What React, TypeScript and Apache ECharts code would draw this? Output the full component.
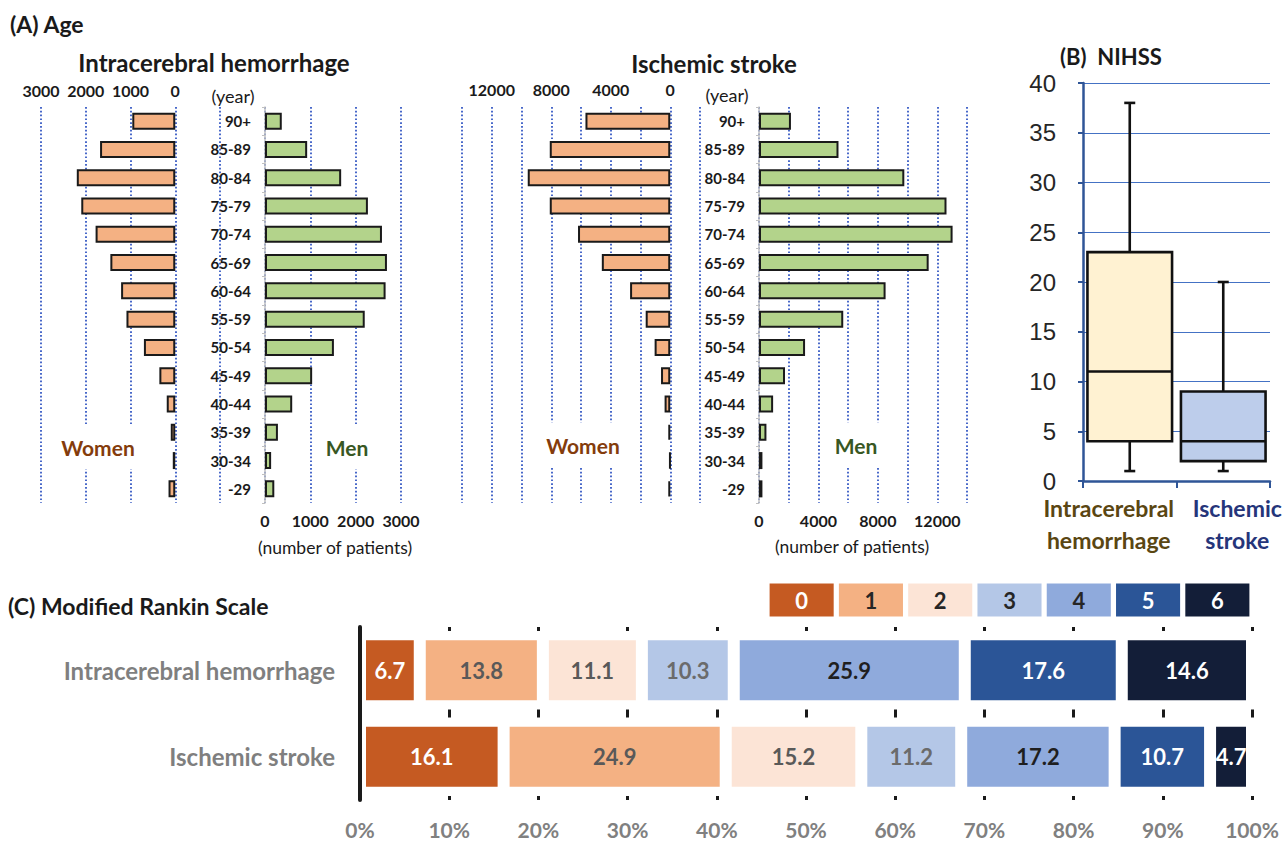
import React, { useEffect, useRef } from "react";
import * as echarts from "echarts";

// ---------- DATA ----------
const ageGroups = ["90+", "85-89", "80-84", "75-79", "70-74", "65-69", "60-64", "55-59", "50-54", "45-49", "40-44", "35-39", "30-34", "-29"];
const ichWomen = [960, 1680, 2200, 2100, 1780, 1450, 1210, 1090, 700, 355, 190, 100, 55, 150];
const ichMen = [370, 930, 1680, 2270, 2580, 2690, 2660, 2200, 1520, 1040, 600, 285, 135, 205];
const isWomen = [5700, 8100, 9580, 8100, 6200, 4600, 2700, 1650, 1050, 620, 380, 130, 40, 130];
const isMen = [2150, 5350, 9780, 12620, 13030, 11420, 8520, 5670, 3100, 1750, 950, 500, 230, 230];

const nihssCategories = ["Intracerebral\nhemorrhage", "Ischemic\nstroke"];
// [min, Q1, median, Q3, max]
const nihssIch = [1, 4, 11, 23, 38];
const nihssIs = [1, 2, 4, 9, 20];

const mrsCategories = ["Intracerebral hemorrhage", "Ischemic stroke"];
const mrsScores = ["0", "1", "2", "3", "4", "5", "6"];
const mrsIch = [6.7, 13.8, 11.1, 10.3, 25.9, 17.6, 14.6];
const mrsIs = [16.1, 24.9, 15.2, 11.2, 17.2, 10.7, 4.7];

// ---------- STYLE ----------
const CAL = "Lato";
const womenColor = "#F4B183";
const menColor = "#B3D38B";
const mrsColors = ["#C55A22", "#F4B183", "#FCE4D6", "#B4C7E7", "#8FAADC", "#2B5597", "#131E38"];
const mrsLabelColors = ["#ffffff", "#595959", "#595959", "#6b6b6b", "#1f1f1f", "#ffffff", "#ffffff"];
const legendLabelColors = ["#ffffff", "#262626", "#262626", "#262626", "#262626", "#ffffff", "#ffffff"];
const boxFills = ["#FFF2D2", "#BDCDEB"];

const dotted = { show: true, lineStyle: { color: "#2a4fc0", type: [1.7, 2.1], width: 1.7 } };

function App() {
  const ref = useRef<HTMLDivElement>(null);
  useEffect(() => {
    if (!ref.current) return;
    const chart = echarts.init(ref.current, null, { renderer: "svg" });

    const pyrTop = 107;
    const pyrH = 396;
    const axisLabelTop = { fontFamily: CAL, fontWeight: "bold", fontSize: 16, color: "#1a1a1a" };
    const ichFmt = (v: number) => (v < 0 ? "" : String(v));
    const isFmt = (v: number) => (v >= 0 && v <= 12000 && v % 4000 === 0 ? String(v) : "");

    const catAxisBase = (gridIndex: number, showLabels: boolean) => ({
      type: "category",
      gridIndex,
      data: ageGroups,
      inverse: true,
      show: true,
      axisLine: { show: showLabels, lineStyle: { color: "#c0c0c0", width: 1.5 } },
      axisTick: { show: showLabels, length: 3, lineStyle: { color: "#c0c0c0" } },
      axisLabel: {
        show: showLabels,
        margin: 14,
        fontFamily: CAL,
        fontWeight: "bold",
        fontSize: 15,
        color: "#1a1a1a",
      },
      splitLine: { show: false },
    });

    const barStyle = (color: string) => ({ color, borderColor: "#1a1a1a", borderWidth: 2 });

    const text = (t: string, x: number, y: number, font: string, fill: string, align = "center", extra: any = {}) => ({
      type: "text",
      x,
      y,
      z: 100,
      style: {
        text: t,
        font,
        fill,
        align,
        verticalAlign: "middle",
        textAlign: align,
        textVerticalAlign: "middle",
        ...extra,
      },
    });

    const option: any = {
      animation: false,
      backgroundColor: "#ffffff",
      grid: [
        { left: 41, top: pyrTop, width: 179, height: pyrH },
        { left: 265, top: pyrTop, width: 136, height: pyrH },
        { left: 462, top: pyrTop, width: 238, height: pyrH },
        { left: 759, top: pyrTop, width: 208, height: pyrH },
        { left: 1083, top: 83, width: 187, height: 398 },
        { left: 360, top: 627, width: 892, height: 173 },
        { left: 767, top: 582, width: 485, height: 36 },
      ],
      xAxis: [
        {
          type: "value", gridIndex: 0, min: -1000, max: 3000, interval: 1000, inverse: true, position: "top",
          axisLine: { show: false }, axisTick: { show: false },
          axisLabel: { ...axisLabelTop, margin: 9, formatter: ichFmt }, splitLine: dotted,
        },
        {
          type: "value", gridIndex: 1, min: 0, max: 3000, interval: 1000, position: "bottom",
          axisLine: { show: false }, axisTick: { show: false },
          axisLabel: { ...axisLabelTop, margin: 9, formatter: ichFmt }, splitLine: dotted,
        },
        {
          type: "value", gridIndex: 2, min: -2000, max: 14000, interval: 2000, inverse: true, position: "top",
          axisLine: { show: false }, axisTick: { show: false },
          axisLabel: { ...axisLabelTop, margin: 10, formatter: isFmt }, splitLine: dotted,
        },
        {
          type: "value", gridIndex: 3, min: 0, max: 14000, interval: 2000, position: "bottom",
          axisLine: { show: false }, axisTick: { show: false },
          axisLabel: { ...axisLabelTop, margin: 9, formatter: isFmt }, splitLine: dotted,
        },
        {
          type: "category", gridIndex: 4, data: nihssCategories, boundaryGap: true,
          axisLine: { show: true, lineStyle: { color: "#2F5597", width: 2.5 } },
          axisTick: { show: true, length: 7, lineStyle: { color: "#2F5597", width: 2 } },
          axisLabel: {
            margin: 11,
            interval: 0,
            formatter: (v: string, i: number) => v.split("\n").map((s) => `{c${i}|${s}}`).join("\n"),
            rich: {
              c0: { color: "#5a4612", fontSize: 23, fontWeight: "bold", fontFamily: CAL, lineHeight: 32, padding: [0, 42, 0, 0] },
              c1: { color: "#25357a", fontSize: 23, fontWeight: "bold", fontFamily: CAL, lineHeight: 32, padding: [0, 0, 0, 28] },
            },
          },
        },
        {
          type: "value", gridIndex: 5, min: 0, max: 100, interval: 10,
          axisLine: { show: false }, axisTick: { show: false },
          axisLabel: {
            margin: 19, formatter: "{value}%", fontFamily: CAL, fontWeight: "bold", fontSize: 21, color: "#808080",
          },
          splitLine: { show: true, lineStyle: { color: "#1a1a1a", width: 3, type: [8, 78.5], dashOffset: 4 } },
        },
        { type: "value", gridIndex: 6, min: 0, max: 7, show: false },
      ],
      yAxis: [
        catAxisBase(0, false),
        catAxisBase(1, true),
        catAxisBase(2, false),
        catAxisBase(3, true),
        {
          type: "value", gridIndex: 4, min: 0, max: 40, interval: 5,
          axisLine: { show: true, lineStyle: { color: "#2F5597", width: 2.5 } },
          axisTick: { show: true, length: 5, lineStyle: { color: "#2F5597", width: 2 } },
          axisLabel: { margin: 27, fontFamily: "Liberation Sans", fontSize: 24, color: "#262626" },
          splitLine: { show: true, lineStyle: { color: "#4472C4", width: 1 } },
        },
        {
          type: "category", gridIndex: 5, data: mrsCategories, inverse: true, z: 5,
          axisLine: { show: true, lineStyle: { color: "#1a1a1a", width: 4 } },
          axisTick: { show: false },
          axisLabel: { margin: 25, fontFamily: CAL, fontWeight: "bold", fontSize: 24, color: "#7f7f7f" },
        },
        { type: "category", gridIndex: 6, data: ["legend"], show: false },
      ],
      series: [
        { type: "bar", name: "ICH women", xAxisIndex: 0, yAxisIndex: 0, data: ichWomen, barWidth: 17, itemStyle: barStyle(womenColor) },
        { type: "bar", name: "ICH men", xAxisIndex: 1, yAxisIndex: 1, data: ichMen, barWidth: 17, itemStyle: barStyle(menColor) },
        { type: "bar", name: "IS women", xAxisIndex: 2, yAxisIndex: 2, data: isWomen, barWidth: 17, itemStyle: barStyle(womenColor) },
        { type: "bar", name: "IS men", xAxisIndex: 3, yAxisIndex: 3, data: isMen, barWidth: 17, itemStyle: barStyle(menColor) },
        {
          type: "custom",
          name: "NIHSS",
          xAxisIndex: 4,
          yAxisIndex: 4,
          encode: { x: 0, y: [1, 2, 3, 4, 5] },
          data: [
            [0, ...nihssIch],
            [1, ...nihssIs],
          ],
          renderItem: (params: any, api: any) => {
            const idx = api.value(0);
            const lo = api.value(1), q1 = api.value(2), med = api.value(3), q3 = api.value(4), hi = api.value(5);
            const cx = api.coord([idx, med])[0];
            const y = (v: number) => api.coord([idx, v])[1];
            const bw = api.size([1, 0])[0] * 0.905;
            const cap = 11;
            const st = { stroke: "#111111", lineWidth: 2.6 };
            return {
              type: "group",
              children: [
                { type: "line", shape: { x1: cx, y1: y(hi), x2: cx, y2: y(q3) }, style: st },
                { type: "line", shape: { x1: cx, y1: y(q1), x2: cx, y2: y(lo) }, style: st },
                { type: "line", shape: { x1: cx - cap / 2, y1: y(hi), x2: cx + cap / 2, y2: y(hi) }, style: st },
                { type: "line", shape: { x1: cx - cap / 2, y1: y(lo), x2: cx + cap / 2, y2: y(lo) }, style: st },
                {
                  type: "rect",
                  shape: { x: cx - bw / 2, y: y(q3), width: bw, height: y(q1) - y(q3) },
                  style: { fill: boxFills[idx], stroke: "#111111", lineWidth: 2.6 },
                },
                { type: "line", shape: { x1: cx - bw / 2, y1: y(med), x2: cx + bw / 2, y2: y(med) }, style: st },
              ],
            };
          },
        },
        ...mrsScores.map((s, i) => ({
          type: "bar",
          name: "mRS " + s,
          stack: "mrs",
          xAxisIndex: 5,
          yAxisIndex: 5,
          barWidth: 72,
          data: [mrsIch[i], mrsIs[i]],
          itemStyle: { color: mrsColors[i], borderColor: "#ffffff", borderWidth: 6 },
          label: {
            show: true,
            position: "inside",
            formatter: (p: any) => Number(p.value).toFixed(1),
            fontFamily: CAL,
            fontWeight: "bold",
            fontSize: 22,
            color: mrsLabelColors[i],
          },
        })),
        ...mrsScores.map((s, i) => ({
          type: "bar",
          name: s,
          stack: "legend",
          xAxisIndex: 6,
          yAxisIndex: 6,
          barWidth: 38,
          data: [1],
          itemStyle: { color: mrsColors[i], borderColor: "#ffffff", borderWidth: 2.6 },
          label: {
            show: true,
            position: "inside",
            formatter: s,
            fontFamily: CAL,
            fontWeight: "bold",
            fontSize: 22,
            color: legendLabelColors[i],
          },
        })),
      ],
      graphic: [
        text("(A) Age", 10, 24, `bold 23px ${CAL}`, "#1a1a1a", "left"),
        text("Intracerebral hemorrhage", 214, 62, `bold 24px ${CAL}`, "#1a1a1a"),
        text("Ischemic stroke", 714, 63, `bold 24px ${CAL}`, "#1a1a1a"),
        text("(year)", 233, 96, `18px ${CAL}`, "#1a1a1a"),
        text("(year)", 727, 95, `18px ${CAL}`, "#1a1a1a"),
        text("(number of patients)", 335, 547, `17.5px ${CAL}`, "#1a1a1a"),
        text("(number of patients)", 852, 546, `17.5px ${CAL}`, "#1a1a1a"),
        text("Women", 98, 447, `bold 21px ${CAL}`, "#843C0C", "center", { backgroundColor: "#ffffff", padding: [12, 12] }),
        text("Men", 347, 447, `bold 21px ${CAL}`, "#385723", "center", { backgroundColor: "#ffffff", padding: [12, 10] }),
        text("Women", 583, 445, `bold 21px ${CAL}`, "#843C0C", "center", { backgroundColor: "#ffffff", padding: [12, 14] }),
        text("Men", 856, 445, `bold 21px ${CAL}`, "#385723", "center", { backgroundColor: "#ffffff", padding: [12, 10] }),
        text("(B)  NIHSS", 1060, 56, `bold 22px ${CAL}`, "#1a1a1a", "left"),
        text("(C) Modified Rankin Scale", 8, 606, `bold 23px ${CAL}`, "#1a1a1a", "left"),
      ],
    };

    chart.setOption(option);
    return () => {
      chart.dispose();
    };
  }, []);

  return (
    <div
      ref={ref}
      style={{ position: "fixed", left: 0, top: 0, width: 1285, height: 843, background: "#ffffff" }}
    />
  );
}

export default App;
